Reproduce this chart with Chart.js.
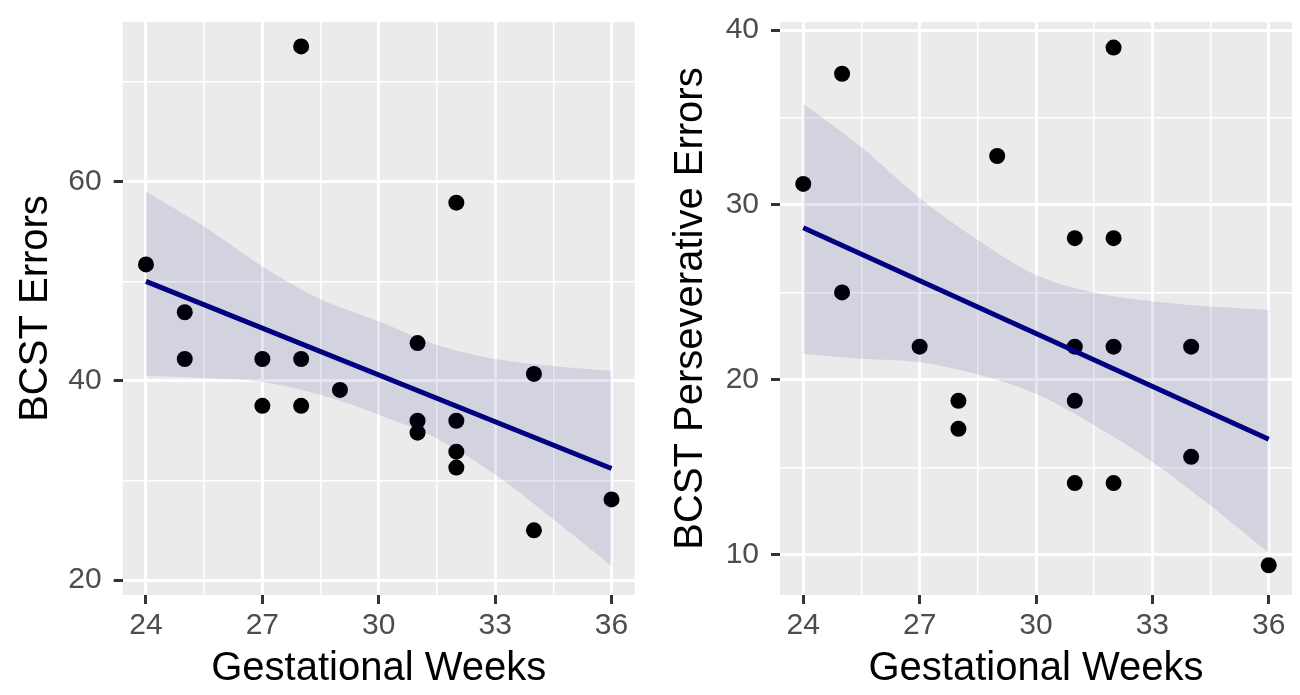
<!DOCTYPE html>
<html>
<head>
<meta charset="utf-8">
<script src="https://cdn.jsdelivr.net/npm/chart.js@4.4.1/dist/chart.umd.min.js"></script>
<style>
  body { margin: 0; background: #ffffff; }
  canvas { position: absolute; top: 0; }
  #errorsChart { left: 0; }
  #persevChart { left: 650px; }
</style>
</head>
<body>
<canvas id="errorsChart" width="650" height="695"></canvas>
<canvas id="persevChart" width="650" height="695"></canvas>
<script>
// data
const weeksErrors = [24, 25, 25, 27, 27, 28, 28, 28, 29, 31, 31, 31, 32, 32, 32, 32, 34, 34, 36];
const bcstErrors = [51.7, 46.9, 42.2, 42.2, 37.5, 73.6, 42.2, 37.5, 39.1, 43.8, 36.0, 34.8, 57.9, 36.0, 32.9, 31.3, 40.7, 25.0, 28.1];

const weeksPersev = [24, 25, 25, 27, 28, 28, 29, 31, 31, 31, 31, 32, 32, 32, 32, 34, 34, 36];
const bcstPersev = [31.2, 37.5, 25.0, 21.9, 18.8, 17.2, 32.8, 28.1, 21.9, 18.8, 14.1, 39.0, 28.1, 21.9, 14.1, 21.9, 15.6, 9.4];

// fitted line and confidence band
const fitWeeks = [24, 36];
const errorsFit = [50.0, 31.2];
const persevFit = [28.7, 16.6];

const bandWeeks = [24, 25.5, 27, 28.5, 30, 31.5, 33, 34.5, 36];
const errorsUpper = [59.0, 55.5, 51.5, 48.2, 46.0, 43.6, 42.2, 41.5, 41.0];
const errorsLower = [40.5, 40.3, 39.9, 38.6, 36.6, 34.2, 30.6, 26.1, 21.4];
const persevUpper = [35.8, 33.3, 30.4, 28.0, 26.0, 25.0, 24.5, 24.2, 24.0];
const persevLower = [21.5, 21.2, 21.0, 20.3, 19.2, 17.4, 15.3, 12.8, 10.1];

// tick labels
const weekTicks = [24, 27, 30, 33, 36];
const errorsTicks = [20, 40, 60];
const persevTicks = [10, 20, 30, 40];

const panelBackground = {
    id: 'panelBackground',
    beforeDraw(chart) {
        const { ctx, chartArea: a } = chart;
        ctx.save();
        ctx.fillStyle = '#EBEBEB';
        ctx.fillRect(a.left, a.top, a.right - a.left, a.bottom - a.top);
        ctx.restore();
    }
};

function pairs(xs, ys) {
    return xs.map((x, i) => ({ x: x, y: ys[i] }));
}

function isMajor(list, v) {
    return list.some(t => Math.abs(t - v) < 1e-6);
}

function gridFor(list) {
    return {
        color: '#FFFFFF',
        lineWidth: c => (c.tick && isMajor(list, c.tick.value)) ? 3 : 1.5,
        drawTicks: true,
        tickLength: 9,
        tickWidth: 3,
        tickColor: c => (c.tick && isMajor(list, c.tick.value)) ? '#333333' : 'rgba(0,0,0,0)'
    };
}

function makeChart(id, cfg) {
    const ctx = document.getElementById(id).getContext('2d');
    return new Chart(ctx, {
        type: 'line',
        data: {
            datasets: [
                {
                    label: 'fit',
                    data: pairs(fitWeeks, cfg.fit),
                    borderColor: '#000080',
                    borderWidth: 5,
                    pointRadius: 0,
                    fill: false,
                    order: 0
                },
                {
                    label: 'upper',
                    data: pairs(bandWeeks, cfg.upper),
                    borderWidth: 0,
                    borderColor: 'rgba(0,0,0,0)',
                    pointRadius: 0,
                    cubicInterpolationMode: 'monotone',
                    fill: false,
                    order: 1
                },
                {
                    label: 'lower',
                    data: pairs(bandWeeks, cfg.lower),
                    borderWidth: 0,
                    borderColor: 'rgba(0,0,0,0)',
                    backgroundColor: 'rgba(0,0,128,0.1)',
                    pointRadius: 0,
                    cubicInterpolationMode: 'monotone',
                    fill: '-1',
                    order: 1
                },
                {
                    label: 'points',
                    type: 'scatter',
                    data: pairs(cfg.weeks, cfg.values),
                    backgroundColor: '#000000',
                    borderColor: '#000000',
                    borderWidth: 0,
                    pointRadius: 8,
                    showLine: false,
                    order: 2
                }
            ]
        },
        options: {
            responsive: false,
            animation: false,
            layout: { padding: { top: 22, right: cfg.padRight, bottom: 0, left: 0 } },
            plugins: {
                legend: { display: false },
                tooltip: { enabled: false }
            },
            scales: {
                x: {
                    type: 'linear',
                    min: 23.4,
                    max: 36.6,
                    afterFit: s => { s.height = 100; },
                    border: { display: false },
                    grid: gridFor(weekTicks),
                    ticks: {
                        stepSize: 1.5,
                        includeBounds: false,
                        autoSkip: false,
                        maxRotation: 0,
                        padding: 4,
                        color: '#4D4D4D',
                        font: { family: 'Liberation Sans', size: 30 },
                        callback: v => isMajor(weekTicks, v) ? String(v) : ''
                    },
                    title: {
                        display: true,
                        text: 'Gestational Weeks',
                        color: '#000000',
                        padding: { top: 0, bottom: 2 },
                        font: { family: 'Liberation Sans', size: 40 }
                    }
                },
                y: {
                    type: 'linear',
                    min: cfg.yMin,
                    max: cfg.yMax,
                    afterFit: s => {
                        s.width = cfg.yWidth;
                        s.paddingTop = 0;
                        s.paddingBottom = 0;
                    },
                    border: { display: false },
                    grid: gridFor(cfg.ticks),
                    ticks: {
                        stepSize: cfg.step,
                        includeBounds: false,
                        autoSkip: false,
                        padding: 12,
                        color: '#4D4D4D',
                        font: { family: 'Liberation Sans', size: 30 },
                        callback: v => isMajor(cfg.ticks, v) ? String(v) : ''
                    },
                    title: {
                        display: true,
                        text: cfg.title,
                        color: '#000000',
                        padding: { top: cfg.titlePad, bottom: 0 },
                        font: { family: 'Liberation Sans', size: 40 }
                    }
                }
            }
        },
        plugins: [panelBackground]
    });
}

makeChart('errorsChart', {
    weeks: weeksErrors,
    values: bcstErrors,
    fit: errorsFit,
    upper: errorsUpper,
    lower: errorsLower,
    ticks: errorsTicks,
    step: 10,
    yMin: 18.5,
    yMax: 76.05,
    yWidth: 122.7,
    padRight: 15.2,
    titlePad: 12,
    title: 'BCST Errors'
});

makeChart('persevChart', {
    weeks: weeksPersev,
    values: bcstPersev,
    fit: persevFit,
    upper: persevUpper,
    lower: persevLower,
    ticks: persevTicks,
    step: 5,
    yMin: 7.7,
    yMax: 40.46,
    yWidth: 130,
    padRight: 6.7,
    titlePad: 17,
    title: 'BCST Perseverative Errors'
});
</script>
</body>
</html>
